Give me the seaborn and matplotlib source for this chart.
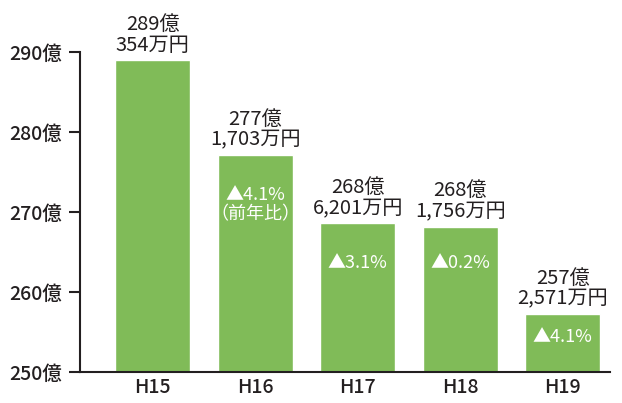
import matplotlib
matplotlib.use("Agg")
import matplotlib.pyplot as plt
import seaborn as sns
import pandas as pd

years = ["H15", "H16", "H17", "H18", "H19"]
values = [289.0354, 277.1703, 268.6201, 268.1756, 257.2571]  # 億円
top_labels = ["289億\n354万円", "277億\n1,703万円", "268億\n6,201万円", "268億\n1,756万円", "257億\n2,571万円"]
inner_labels = ["", "▲4.1%\n（前年比）", "▲3.1%", "▲0.2%", "▲4.1%"]
inner_y = [0, 270.9, 263.6, 263.6, 254.4]
yticks = [250, 260, 270, 280, 290]
ytick_labels = ["250億", "260億", "270億", "280億", "290億"]

sns.set_theme(style="white")
plt.rcParams['font.family'] = ['Noto Sans CJK JP', 'DejaVu Sans']

df = pd.DataFrame({"year": years, "value": values})
green = "#80bb58"
dark = "#231f20"

fig = plt.figure(figsize=(6.22, 4.03), dpi=100)
ax = fig.add_axes([80/622, 31/403, 530/622, 320/403])
sns.barplot(data=df, x="year", y="value", color=green, width=0.73, saturation=1, ax=ax)
ax.set_ylim(250, 290)
ax.set_xlim(-0.71, 4.46)
ax.set_xlabel("")
ax.set_ylabel("")
ax.set_yticks(yticks)
ax.set_yticklabels(ytick_labels, fontsize=14, color=dark, fontweight="medium")
ax.tick_params(axis="y", direction="out", length=8, width=1.5, color=dark, left=True, pad=5)
ax.tick_params(axis="x", length=0, labelsize=14, labelcolor=dark, pad=4)
for lbl in ax.get_xticklabels():
    lbl.set_fontweight("medium")
for s in ["top", "right"]:
    ax.spines[s].set_visible(False)
for s in ["left", "bottom"]:
    ax.spines[s].set_color(dark)
    ax.spines[s].set_linewidth(1.5)

for i, (v, t) in enumerate(zip(values, top_labels)):
    ax.annotate(t, xy=(i, v), xytext=(0, 3), textcoords="offset points",
                ha="center", va="bottom", fontsize=14.5, color=dark,
                linespacing=1.0, annotation_clip=False)
for i, t in enumerate(inner_labels):
    if t:
        ax.text(i, inner_y[i], t, ha="center", va="center", fontsize=13,
                color="white", linespacing=1.1)

fig.savefig("out.png", dpi=100)
